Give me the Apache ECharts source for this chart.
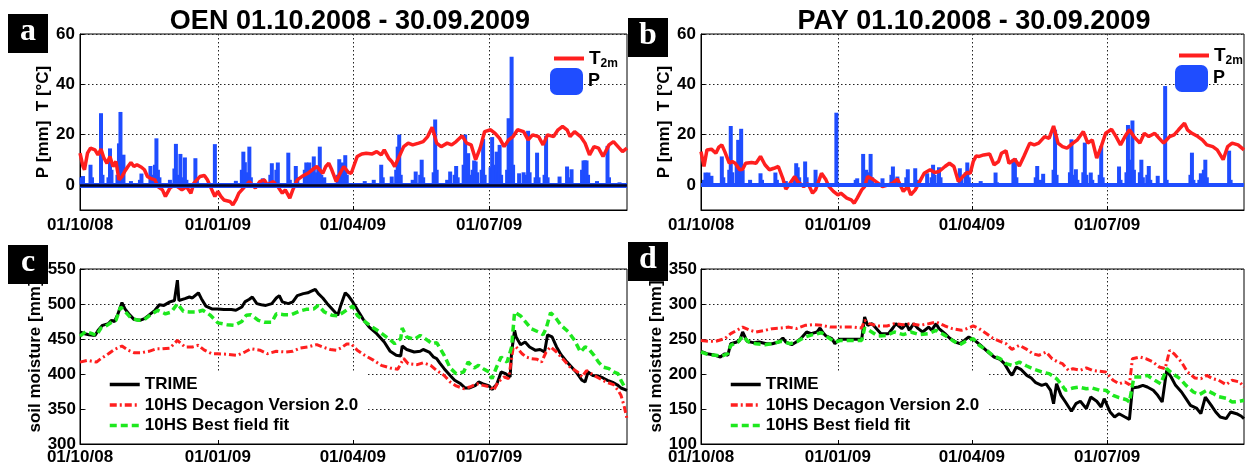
<!DOCTYPE html>
<html>
<head>
<meta charset="utf-8">
<title>OEN / PAY 2008-2009</title>
<script src="https://cdn.jsdelivr.net/npm/echarts@6.0.0/dist/echarts.min.js"></script>
<style>
  html, body { margin: 0; padding: 0; background: #fff; }
  #chart { width: 1246px; height: 467px; }
</style>
</head>
<body>
<div id="chart"></div>
<script>
// x values are days counted from 01.10.2008 (hydrological year 2008/09)
const tickDays = [0, 92, 182, 273];
const tickLabels = ['01/10/08', '01/01/09', '01/04/09', '01/07/09'];
const climateTicks = [0, 20, 40, 60];

const titles = ['OEN 01.10.2008 - 30.09.2009', 'PAY 01.10.2008 - 30.09.2009'];
const panelLetters = ['a', 'b', 'c', 'd'];
const climateAxisName = 'P [mm]  T [°C]';
const soilAxisName = 'soil moisture [mm]';
const soilNames = ['TRIME', '10HS Decagon Version 2.0', '10HS Best field fit'];

// OEN: 2 m air temperature [°C]
const oenT2m = [[0,12.6],[2,7.3],[3,6],[5,12.6],[7,14.6],[10,13.9],[12,11.9],[14,14.2],[16,10.6],[18,8.6],[20,11.3],[22,7.3],[24,9.3],[26,2],[28,3.3],[30,5.5],[32,7.3],[34,8.9],[36,7.3],[38,8],[41,7],[43,6],[45,3.3],[47,2.6],[50,2],[52,-0.7],[55,-2],[57,-4.6],[60,-1.3],[63,0],[65,-0.7],[68,-2],[71,-0.7],[74,-3.3],[76,0.7],[80,3.3],[83,3.7],[85,2],[87,-0.7],[89,-3.3],[90,-4.6],[92,-2.6],[94,-4.6],[96,-6],[100,-6.6],[102,-8],[104,-6],[106,-3.3],[108,-2],[111,0],[113,1.3],[115,0],[117,-1.3],[120,1.3],[123,2],[125,0],[129,1.3],[132,-0.7],[135,-3.3],[137,-2],[140,-5.3],[142,-2],[145,2],[148,3.3],[152,4.6],[155,6],[158,7.3],[162,4.6],[164,7.3],[166,8.6],[168,6],[171,1.3],[173,4],[176,7.3],[179,5],[181,4.6],[183,8],[185,11.3],[188,12.3],[191,12.6],[195,12.3],[198,13.2],[201,11.9],[203,13.9],[206,10.6],[208,9.3],[210,7.3],[213,11.3],[216,15.2],[219,16.6],[222,15.9],[226,16.6],[229,17.2],[232,19.2],[235,22.9],[238,16.6],[241,15.2],[245,16.6],[248,15.9],[251,17.2],[255,19.5],[258,16.6],[261,15.9],[264,10],[267,14.6],[270,21.2],[274,21.9],[277,20.5],[280,18.5],[283,15.2],[286,17.9],[289,19.2],[292,21.9],[296,21.2],[299,17.9],[302,19.9],[306,19.2],[309,15.9],[312,19.9],[316,19.2],[319,21.9],[322,23.2],[325,21.9],[327,19.2],[330,21.2],[334,19.2],[337,16.6],[340,11.9],[343,15.2],[346,14.6],[349,11.3],[353,15.9],[356,17.2],[359,15.2],[362,13.2],[365,14.6]];

// OEN: daily precipitation [mm] (days without rain omitted)
const oenP = [[1,3],[2,3.5],[7,8],[8,3],[14,28.5],[15,4],[19,3],[20,14.5],[21,6],[25,4],[26,16.5],[27,29],[28,8],[29,12],[34,1.5],[40,2],[41,4.5],[47,7.5],[48,4],[50,8],[51,18.5],[52,6],[53,3],[60,2],[63,6.5],[64,16.3],[65,4],[67,12.3],[68,3],[70,10.9],[71,2],[77,10.6],[78,2],[90,16.2],[104,1.6],[108,6],[109,13.2],[110,9],[112,5],[113,15.2],[114,3],[122,2.6],[127,4],[128,8.6],[131,6],[132,8.9],[139,12.8],[140,2],[144,7.5],[145,3],[150,6],[151,8.9],[153,8.9],[155,6],[156,11.3],[157,5],[159,7],[160,15.2],[161,4],[163,3],[172,4],[173,10.2],[175,8.9],[176,3],[177,11.8],[178,4],[190,1.5],[196,2],[201,8],[202,3],[208,3.3],[211,6],[212,15.2],[213,20],[214,4],[222,2],[224,5.3],[227,4],[228,10],[229,3],[236,5],[237,26],[238,6],[245,2],[247,5.3],[250,4],[251,7.5],[252,3],[256,8],[257,20],[258,6],[259,12.6],[260,4],[262,6],[263,9.7],[264,9.3],[265,5],[268,6],[269,18.3],[270,4],[274,7],[275,19],[276,8],[278,13.2],[279,5],[280,15.9],[281,4],[285,6],[286,26.5],[287,14],[288,51],[289,8],[293,4.6],[296,5],[298,4],[299,21.5],[300,5],[304,3],[305,12.8],[306,3],[310,4],[311,19.5],[312,3],[320,3.3],[325,7.3],[326,3],[328,6.2],[335,6],[336,9.7],[337,9.7],[338,9.7],[339,4],[345,1.5],[352,15.5],[353,3],[360,1]];

// PAY: 2 m air temperature [°C]
const payT2m = [[0,13.2],[2,7.3],[4,13.9],[7,14.2],[10,12.6],[12,15],[14,15.9],[16,13.2],[19,8.6],[21,9.3],[23,8.6],[26,6],[28,6.2],[30,8.6],[34,8.9],[37,8.6],[40,11.3],[43,8],[46,6],[49,6.6],[52,7.3],[55,2.6],[57,-1.7],[60,0.7],[63,3.3],[65,1.3],[69,-0.7],[72,0.4],[75,-3.3],[77,-2],[81,4.6],[84,2],[86,-0.7],[89,-2.6],[92,-4],[94,-3.3],[98,-5.3],[101,-6],[103,-7.3],[105,-5.3],[108,-2],[110,-0.7],[112,3.3],[116,2],[119,0.7],[122,-0.7],[126,0],[129,0.7],[132,2.3],[136,-2.6],[139,-0.7],[141,-4],[144,-2],[147,1.3],[150,4.6],[154,6],[157,4.9],[160,5.3],[164,7.3],[167,8.6],[170,7.3],[173,1.3],[176,3.3],[179,5],[181,4.6],[183,9.3],[185,11.5],[187,11.3],[190,11.9],[194,12.3],[197,8],[200,9.3],[202,12.6],[205,13.6],[207,8.6],[211,10.2],[214,7.5],[217,11.3],[221,16.6],[224,15.9],[227,16.6],[231,19.2],[234,18.5],[237,23.4],[240,16.6],[243,15.2],[246,14.6],[250,16.6],[253,17.9],[257,21.2],[260,16.6],[263,17.9],[266,10.6],[269,15.2],[272,20.5],[276,22.1],[279,19.2],[282,15.9],[285,19.2],[288,21.9],[291,19.2],[295,16.6],[298,20.5],[301,19.2],[305,20.5],[308,18.5],[311,16.6],[315,19.2],[318,19.9],[321,21.9],[325,24.5],[327,21.9],[330,20.5],[334,19.2],[337,17.9],[340,15.9],[344,15.2],[347,13.9],[351,10],[354,15.2],[357,16.6],[361,15.9],[365,13.9]];

// PAY: daily precipitation [mm]
const payP = [[2,2],[3,4.9],[5,4.9],[7,3.6],[14,11.3],[15,3],[19,6],[20,23.4],[21,5],[24,8],[25,17.9],[27,22.3],[28,6],[33,2],[40,4.6],[41,2],[50,4.9],[51,2],[57,1.5],[63,3],[64,8.6],[65,7],[66,3],[70,9.3],[71,3],[77,6],[78,2],[91,28.7],[104,2],[105,2.6],[109,12.3],[110,4],[111,6],[113,5],[114,12.3],[115,3],[122,2.6],[128,4],[129,7.3],[130,2],[132,3.3],[138,3],[139,6.2],[144,6.6],[145,2],[152,4.6],[155,3],[156,8],[157,4],[160,7],[161,3],[174,6.6],[175,3],[178,5],[179,8.9],[180,3],[188,1.5],[198,4.9],[199,1],[210,10],[211,10.6],[212,3],[225,3],[226,7.5],[228,2],[230,4.4],[237,6],[238,21.9],[239,4],[248,5],[249,18.1],[250,4],[252,6.2],[253,2],[257,5],[258,16.8],[259,4],[262,4.9],[263,2],[268,4],[269,15.5],[270,3],[281,7.3],[282,2],[286,5],[287,23.8],[288,10],[290,25.6],[291,6],[295,5],[296,10],[297,3],[300,4],[301,7.5],[302,2],[307,3.6],[312,39.3],[313,2],[329,4],[330,12.8],[331,2],[335,2],[336,4.6],[338,6],[339,10],[340,3],[355,13.6],[356,2]];

// OEN: soil moisture [mm]
const oenTrime = [[0,460],[3,457.6],[6,456],[10,455],[12,462],[15,469.5],[19,472],[21,476.7],[23,475],[25,484],[28,502],[30,493],[33,484.8],[36,478],[40,476.7],[43,479],[46,484],[50,491],[53,499],[56,498],[60,503],[63,505],[65,534],[66,505],[70,507.6],[73,510],[75,508.6],[79,516],[81,507.6],[84,497],[88,493],[92,493],[96,492],[101,492],[104,491],[108,495.7],[110,503],[113,506.7],[115,510],[118,500.5],[121,499],[124,498],[128,500.5],[131,508.6],[133,512],[135,503],[139,500.5],[142,503],[145,512],[149,514.8],[152,516],[154,518],[157,521],[159,514.8],[162,508.6],[165,500.5],[169,491],[172,484],[174,498],[177,516],[179,512],[182,503],[186,488.6],[189,478],[193,467],[198,457.6],[203,445.7],[207,432.4],[211,426.7],[214,425.7],[215,440],[218,435],[223,431.4],[227,432.4],[229,435],[233,431.4],[236,424],[238,422],[240,416],[243,407.6],[247,398],[250,391],[254,386],[257,380],[260,380],[264,383.8],[266,388.6],[269,386],[273,383],[275,378],[278,384.8],[281,402.9],[284,400.5],[287,395.7],[288,431.4],[290,462.4],[291,452.9],[294,441.9],[297,445.7],[300,438.6],[304,433.8],[307,435],[310,431.4],[312,456],[315,452.9],[318,438.6],[321,427.6],[325,417],[328,410],[331,402.9],[335,391],[337,388.6],[339,402.9],[342,398],[346,397],[349,394.3],[352,391],[356,387.6],[359,383.8],[361,380],[365,376.7]];
const oenDecagon = [[0,417],[5,419.5],[11,417],[14,422],[19,429],[23,435],[28,440],[32,434],[36,430.5],[41,430.5],[46,432.4],[51,436],[55,436],[60,437],[65,448],[70,438.6],[75,438.6],[79,441],[83,434],[88,429],[92,429],[99,428],[105,426.7],[110,431.4],[114,436],[120,434],[125,429],[131,432.4],[137,431.4],[142,432.4],[147,437],[152,438.6],[158,442],[162,438.6],[167,435],[171,434],[174,437],[178,443],[181,443],[185,434],[190,426.7],[196,419.5],[201,412.4],[207,408.6],[212,406.7],[216,422],[219,414.8],[225,413.3],[229,416],[234,412.4],[238,405],[243,398],[247,388.6],[251,383],[256,379],[260,381.4],[265,386],[269,383.8],[274,381.4],[276,376.7],[279,388.6],[283,395.7],[286,393.3],[289,437],[291,438.6],[295,429],[298,424],[301,422],[305,421],[308,417],[311,431.4],[314,438.6],[318,431.4],[323,419.5],[327,410],[332,402.9],[335,395.7],[338,405],[343,398],[347,393.3],[351,388.6],[356,384.8],[359,376.7],[361,369.5],[363,355],[365,336]];
const oenBestFit = [[0,454],[4,461],[8,457.6],[11,455],[14,465.7],[18,469.5],[21,474],[24,476.7],[27,495.7],[30,489.5],[34,480],[39,476.7],[43,478],[48,486],[52,491],[57,486],[61,488.6],[65,500.5],[69,489.5],[73,488.6],[78,488.6],[82,491],[87,484],[92,473],[98,470.5],[103,469.5],[108,475],[111,484],[114,484.8],[119,476.7],[123,474],[128,474],[131,486],[136,484.8],[141,484.8],[146,489.5],[151,492.4],[156,493],[159,498],[163,488.6],[168,484],[172,483],[176,488.6],[179,493],[182,497],[185,483.8],[189,476.7],[195,467],[200,460],[206,450.5],[210,443.3],[214,450.5],[215,465.7],[218,452.9],[223,449.5],[227,455.2],[231,449.5],[235,443.3],[238,444.8],[243,426.7],[247,408.6],[251,400.5],[256,402.9],[259,417],[263,408.6],[266,412.4],[269,407.6],[273,402.9],[275,393.3],[278,410],[281,424.3],[285,417],[288,438.6],[290,488.6],[294,482.9],[297,475.2],[301,464.8],[306,460],[309,456.2],[311,464.8],[314,487.6],[317,481.4],[321,469.5],[326,460],[330,448],[334,431.4],[337,438.6],[339,437],[343,426.7],[346,417],[349,410],[353,407.6],[356,402.9],[359,400.5],[361,391],[364,379]];

// PAY: soil moisture [mm]
const payTrime = [[0,232.4],[4,229],[8,227.6],[13,224.3],[16,229],[18,226.7],[20,243.3],[24,245.7],[26,248],[28,260],[31,246.7],[35,244.8],[39,245.7],[44,243.3],[48,243.3],[52,245.7],[55,251.4],[57,245.7],[61,241.9],[64,245.7],[67,250.5],[71,260],[74,257.6],[78,260],[80,265.7],[82,259],[84,254.3],[88,250.5],[90,243.3],[93,249.5],[98,249.5],[103,249.5],[108,249.5],[110,281.4],[112,269.5],[115,271.9],[118,264.8],[121,257.6],[126,257.6],[129,265.7],[131,271.9],[135,264.8],[138,271.9],[140,262.4],[143,271.9],[146,264.8],[149,260],[153,267],[155,262.4],[158,271.9],[160,264.8],[164,257.6],[167,251.4],[171,245.7],[174,243.3],[177,248],[180,252.9],[184,248],[188,241],[193,231.4],[197,224.3],[201,221],[204,214.8],[207,203.8],[209,198],[212,210],[215,206.7],[219,198],[222,194.3],[225,187.6],[229,183.8],[232,186],[235,176.7],[237,157.6],[239,186],[242,169.5],[245,160],[249,146.7],[252,157.6],[255,161],[259,150.5],[262,167],[266,161],[269,152.9],[271,164.8],[275,145.7],[278,138.6],[281,143.3],[285,138.6],[288,135.2],[290,180],[294,181.4],[297,183.8],[300,181.4],[304,176.7],[307,169.5],[310,160],[313,205.2],[316,195.7],[319,183.8],[323,174.3],[326,164.8],[329,155.2],[333,151.4],[336,143.3],[339,167],[343,155.2],[346,145.7],[349,138.6],[353,136.2],[356,145.7],[360,143.3],[363,140],[365,136.2]];
const payDecagon = [[0,248],[5,246.7],[10,246.7],[16,250.5],[20,257.6],[24,262.4],[28,267],[33,262.4],[37,260],[43,262.4],[48,264.8],[54,265.7],[59,267],[64,264.8],[70,269.5],[75,270.5],[81,269.5],[87,267],[92,267],[98,267],[103,267],[108,265.7],[110,276.7],[113,271.9],[119,268.6],[125,268.6],[130,271.9],[136,270.5],[141,271.9],[147,269.5],[153,271.9],[158,274.3],[164,268.6],[169,264.8],[175,262.4],[179,265],[183,268.6],[187,264.8],[192,257.6],[196,251.4],[201,246.7],[205,243.3],[209,235.2],[214,241],[219,235.2],[223,229],[227,226.7],[232,231.4],[236,221.9],[240,217],[243,214.8],[247,205.2],[250,207.6],[255,205.2],[259,208.6],[263,205.2],[268,203.8],[272,202.9],[277,191],[281,186],[285,188.6],[288,184.8],[290,221.9],[295,224.3],[299,221.9],[304,217],[308,210],[312,207.6],[315,233.8],[318,229],[323,217],[327,202.9],[332,194.3],[336,193.3],[340,198],[344,193.3],[348,191],[353,184.8],[357,191],[362,188.6],[365,181.4]];
const payBestFit = [[0,231.4],[5,227.6],[10,226.7],[14,225.7],[18,229],[20,241],[25,245.7],[28,254.3],[32,245.7],[37,243.3],[43,241.9],[48,243.3],[54,246.7],[60,243.3],[65,246.7],[70,252.9],[75,256.2],[81,259],[85,252.9],[90,245.7],[94,248],[101,248],[108,248],[110,265.7],[113,262.4],[119,254.3],[125,255.2],[130,260],[136,256.2],[141,260],[147,256.2],[153,257.6],[158,262.4],[164,255.2],[169,248],[174,241.9],[178,246.7],[183,250.5],[187,241],[192,233.8],[196,226.7],[201,221.9],[205,214.8],[209,212.4],[214,217],[219,211.4],[223,207.6],[229,202.9],[234,200.5],[239,193.3],[242,186],[245,176.7],[250,180],[254,181.4],[259,179],[263,180],[268,176.7],[272,176.7],[277,169.5],[281,166.2],[286,163.3],[288,160],[291,195.7],[296,195.7],[300,198],[305,191],[309,186],[313,207.6],[317,200.5],[322,193.3],[326,183.8],[331,174.3],[335,170.5],[340,176.7],[344,172.4],[348,167.6],[353,165.2],[357,160],[362,161],[365,162.4]];

const FONT = '"Liberation Sans", Arial, sans-serif';
const C_RED = '#ff1f1f';
const C_BLUE = '#1f4dff';
const C_GREEN = '#1ee81e';
const C_GRID = '#222';

const grids = [
  { left: 80, top: 34, width: 547, height: 176 },
  { left: 701, top: 34, width: 543, height: 176 },
  { left: 80, top: 269, width: 547, height: 175 },
  { left: 701, top: 269, width: 543, height: 175 }
].map(g => Object.assign({ show: true, borderColor: '#000', borderWidth: 1, backgroundColor: '#fff' }, g));

const gridLineStyle = { color: C_GRID, width: 1, type: [1.5, 2.5] };
const labelFont = { color: '#000', fontSize: 17, fontWeight: 'bold', fontFamily: FONT };
const nameFont = { color: '#000', fontSize: 17, fontWeight: 'bold', fontFamily: FONT };

function timeAxis(gridIndex, margin) {
  return {
    type: 'value', gridIndex, min: 0, max: 365,
    axisLine: { show: true, onZero: false, lineStyle: { color: '#000', width: 1 } },
    axisTick: { show: true, inside: true, length: 4, customValues: tickDays, lineStyle: { color: '#000' } },
    axisLabel: Object.assign({
      customValues: tickDays, margin,
      formatter: v => tickLabels[tickDays.indexOf(v)]
    }, labelFont),
    splitLine: { show: true, lineStyle: gridLineStyle }
  };
}

function climateAxis(gridIndex) {
  return {
    type: 'value', gridIndex, min: -10, max: 60,
    name: climateAxisName, nameLocation: 'middle', nameGap: 28,
    nameTextStyle: nameFont,
    axisLine: { show: true, onZero: false, lineStyle: { color: '#000', width: 1 } },
    axisTick: { show: true, inside: true, length: 4, customValues: climateTicks, lineStyle: { color: '#000' } },
    axisLabel: Object.assign({ customValues: climateTicks, margin: 5 }, labelFont),
    splitLine: { show: true, lineStyle: gridLineStyle }
  };
}

function soilAxis(gridIndex, min, max, nameGap) {
  return {
    type: 'value', gridIndex, min, max, interval: 50,
    name: soilAxisName, nameLocation: 'middle', nameGap,
    nameTextStyle: nameFont,
    axisLine: { show: true, onZero: false, lineStyle: { color: '#000', width: 1 } },
    axisTick: { show: true, inside: true, length: 4, lineStyle: { color: '#000' } },
    axisLabel: Object.assign({ margin: 4 }, labelFont),
    splitLine: { show: true, lineStyle: gridLineStyle }
  };
}

function tempSeries(idx, data) {
  return {
    name: 'T2m', type: 'line', xAxisIndex: idx, yAxisIndex: idx, data,
    symbol: 'none', showSymbol: false, silent: true,
    lineStyle: { color: C_RED, width: 3.5 }, itemStyle: { color: C_RED }
  };
}

function precipSeries(idx, data, baseline) {
  return {
    name: 'P', type: 'bar', xAxisIndex: idx, yAxisIndex: idx, data,
    barWidth: 4, silent: true, itemStyle: { color: C_BLUE },
    markLine: {
      symbol: 'none', silent: true, label: { show: false },
      data: baseline.map(b => ({ yAxis: 0, lineStyle: { color: b.color, width: b.width, type: 'solid' } }))
    }
  };
}

function soilSeries(idx, trime, decagon, bestFit) {
  const common = { type: 'line', xAxisIndex: idx, yAxisIndex: idx, symbol: 'none', showSymbol: false, silent: true };
  return [
    Object.assign({ name: soilNames[0], data: trime, lineStyle: { color: '#000', width: 3 }, itemStyle: { color: '#000' } }, common),
    Object.assign({ name: soilNames[1], data: decagon, lineStyle: { color: C_RED, width: 3, type: [7, 3, 2, 3] }, itemStyle: { color: C_RED } }, common),
    Object.assign({ name: soilNames[2], data: bestFit, lineStyle: { color: C_GREEN, width: 3.5, type: [7, 4] }, itemStyle: { color: C_GREEN } }, common)
  ];
}

function tempLegend(left, top) {
  return {
    data: ['T2m'], left, top, padding: 0, selectedMode: false,
    itemWidth: 30, itemHeight: 14,
    itemStyle: { opacity: 0 }, lineStyle: { width: 4 },
    formatter: () => '{t|T}{s|2m}',
    textStyle: {
      fontFamily: FONT,
      rich: {
        t: { fontSize: 19, fontWeight: 'bold', color: '#000', fontFamily: FONT },
        s: { fontSize: 12, fontWeight: 'bold', color: '#000', fontFamily: FONT, padding: [11, 0, 0, 0] }
      }
    }
  };
}

function precipLegend(left, top) {
  return {
    data: ['P'], left, top, padding: 0, selectedMode: false,
    itemWidth: 33, itemHeight: 27, icon: 'roundRect',
    textStyle: { fontSize: 18, fontWeight: 'bold', color: '#000', fontFamily: FONT }
  };
}

function soilLegend(left, top) {
  return {
    data: soilNames, orient: 'vertical', left, top, selectedMode: false,
    padding: [5, 8, 5, 20], backgroundColor: '#fff',
    itemWidth: 30, itemHeight: 14, itemGap: 3.5,
    itemStyle: { opacity: 0 }, lineStyle: { width: 3.5 },
    textStyle: { fontSize: 17, fontWeight: 'bold', color: '#000', fontFamily: FONT }
  };
}

function letterBox(letter, x, y) {
  return {
    type: 'group', x, y, silent: true,
    children: [
      { type: 'rect', shape: { x: 0, y: 0, width: 40, height: 39 }, style: { fill: '#000' } },
      { type: 'text', x: 20, y: 18, style: {
          text: letter, fill: '#fff', font: 'bold 32px "Liberation Serif", "Times New Roman", serif',
          align: 'center', verticalAlign: 'middle', textAlign: 'center', textVerticalAlign: 'middle' } }
    ]
  };
}

function titleText(text, x) {
  return {
    type: 'text', x, y: 22, silent: true,
    style: { text, fill: '#000', font: 'bold 27px ' + FONT,
      align: 'center', verticalAlign: 'middle', textAlign: 'center', textVerticalAlign: 'middle' }
  };
}

const chart = echarts.init(document.getElementById('chart'), null, { renderer: 'canvas' });
chart.setOption({
  animation: false,
  backgroundColor: '#fff',
  textStyle: { fontFamily: FONT },
  grid: grids,
  xAxis: [timeAxis(0, 7), timeAxis(1, 7), timeAxis(2, 5), timeAxis(3, 5)],
  yAxis: [climateAxis(0), climateAxis(1), soilAxis(2, 300, 550, 36), soilAxis(3, 100, 350, 33)],
  legend: [
    tempLegend(552, 49), precipLegend(550, 68),
    tempLegend(1177, 46), precipLegend(1175, 65),
    soilLegend(88, 371), soilLegend(709, 371)
  ],
  series: [
    tempSeries(0, oenT2m),
    precipSeries(0, oenP, [{ color: C_BLUE, width: 5 }, { color: '#050520', width: 2.5 }]),
    tempSeries(1, payT2m),
    precipSeries(1, payP, [{ color: C_BLUE, width: 4 }]),
    ...soilSeries(2, oenTrime, oenDecagon, oenBestFit),
    ...soilSeries(3, payTrime, payDecagon, payBestFit)
  ],
  graphic: [
    titleText(titles[0], 350),
    titleText(titles[1], 974),
    letterBox(panelLetters[0], 8, 14),
    letterBox(panelLetters[1], 628, 18),
    letterBox(panelLetters[2], 8, 245),
    letterBox(panelLetters[3], 628, 242)
  ]
});
</script>
</body>
</html>
